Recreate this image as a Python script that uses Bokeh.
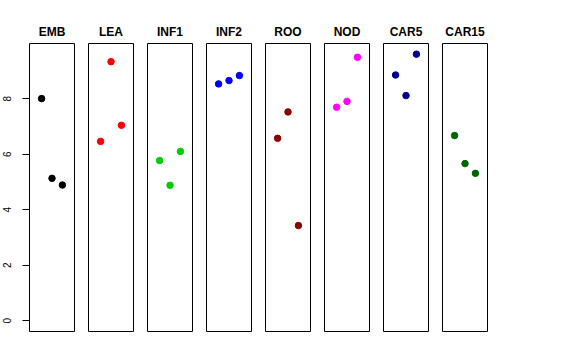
from bokeh.plotting import figure
from bokeh.layouts import row
from bokeh.models import Range1d, FixedTicker, LinearAxis, ColumnDataSource
from bokeh.embed import file_html
from bokeh.resources import INLINE

panels = ["EMB", "LEA", "INF1", "INF2", "ROO", "NOD", "CAR5", "CAR15"]
colors = ["black", "red", "#00CD00", "blue", "#8B0000", "magenta", "#00008B", "#006400"]
positions = [1, 2, 3]
EMB = [8.00, 5.13, 4.89]
LEA = [6.46, 9.33, 7.04]
INF1 = [5.77, 4.88, 6.10]
INF2 = [8.53, 8.65, 8.83]
ROO = [6.57, 7.52, 3.43]
NOD = [7.69, 7.90, 9.49]
CAR5 = [8.85, 8.11, 9.60]
CAR15 = [6.67, 5.66, 5.31]
series = [EMB, LEA, INF1, INF2, ROO, NOD, CAR5, CAR15]
y_ticks = [0, 2, 4, 6, 8]

FONT = "Liberation Sans"
ymin, ymax = 0.0, max(max(s) for s in series)
ypad = 0.04 * (ymax - ymin)
xmin, xmax = 0.0, 4.0
xpad = 0.04 * (xmax - xmin)

figs = []
for i, (name, col, vals) in enumerate(zip(panels, colors, series)):
    first = i == 0
    p = figure(frame_width=45, frame_height=288,
               min_border_left=29 if first else 7,
               min_border_right=7 if i < 7 else 20,
               min_border_top=43, min_border_bottom=10,
               x_range=Range1d(xmin - xpad, xmax + xpad),
               y_range=Range1d(ymin - ypad, ymax + ypad),
               output_backend="svg", toolbar_location=None,
               x_axis_location=None, y_axis_location=None,
               title=name)
    p.title.align = "center"
    p.title.text_font = FONT
    p.title.text_font_style = "bold"
    p.title.text_font_size = "12px"
    p.title.text_color = "black"
    p.title.standoff = 10
    p.grid.visible = False
    p.outline_line_color = "black"
    p.outline_line_width = 1
    p.outline_line_alpha = 1
    p.background_fill_color = "white"
    p.border_fill_color = "white"
    src = ColumnDataSource(dict(x=positions, y=vals))
    p.scatter("x", "y", source=src, size=6.5, color=col, line_color=col)
    if first:
        ax = LinearAxis(ticker=FixedTicker(ticks=y_ticks))
        ax.bounds = (0, 8)
        ax.major_tick_out = 7
        ax.major_tick_in = 0
        ax.minor_tick_line_color = None
        ax.major_label_orientation = "vertical"
        ax.major_label_standoff = 11
        ax.major_label_text_font = FONT
        ax.major_label_text_font_size = "10px"
        ax.major_label_text_color = "black"
        ax.axis_line_color = "black"
        ax.major_tick_line_color = "black"
        p.add_layout(ax, "left")
    figs.append(p)

layout = row(*figs, spacing=0)
open("out.html", "w").write(file_html(layout, INLINE))
